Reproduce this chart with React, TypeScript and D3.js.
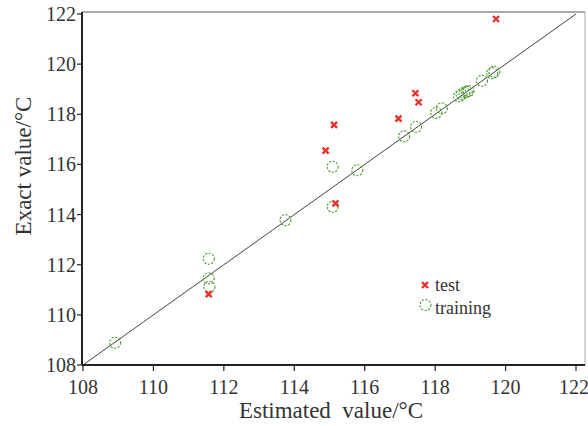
import { useEffect, useRef } from 'react'
import * as d3 from 'd3'

// training points [estimated, exact]
const trainEst = [108.91, 111.57, 111.57, 111.59, 113.75, 115.09, 115.09, 115.79, 117.12, 117.46, 118.03, 118.19, 118.68, 118.75, 118.83, 118.9, 118.95, 119.33, 119.62, 119.68]
const trainExact = [108.89, 112.24, 111.46, 111.12, 113.78, 115.91, 114.31, 115.77, 117.12, 117.5, 118.06, 118.24, 118.72, 118.8, 118.86, 118.9, 118.93, 119.34, 119.64, 119.7]

// test points
const testEst = [111.57, 115.17, 114.89, 115.13, 116.96, 117.44, 117.53, 119.73]
const testExact = [110.83, 114.45, 116.55, 117.58, 117.83, 118.84, 118.48, 121.8]

const ticks = [108, 110, 112, 114, 116, 118, 120, 122]

export default function App() {
  const svgRef = useRef<SVGSVGElement>(null)

  useEffect(() => {
    const W = 588
    const H = 426
    const svg = d3.select(svgRef.current).attr('width', W).attr('height', H)
    svg.selectAll('*').remove()

    const left = 82, right = 585, top = 12, bottom = 365
    const x = d3.scaleLinear().domain([108, 122]).range([83, 576])
    const y = d3.scaleLinear().domain([108, 122]).range([365, 14])
    const font = 'Liberation Serif, Times New Roman, serif'

    // frame: top/right light
    svg.append('line').attr('x1', left).attr('x2', right).attr('y1', top).attr('y2', top).attr('stroke', '#555').attr('stroke-width', 1.2)
    svg.append('line').attr('x1', right).attr('x2', right).attr('y1', top).attr('y2', bottom).attr('stroke', '#aaa').attr('stroke-width', 1)

    // diagonal y = x
    svg.append('line')
      .attr('x1', x(108)).attr('y1', y(108)).attr('x2', x(122)).attr('y2', y(122))
      .attr('stroke', '#444').attr('stroke-width', 1)

    // axes
    svg.append('line').attr('x1', left).attr('x2', right).attr('y1', bottom).attr('y2', bottom).attr('stroke', '#222').attr('stroke-width', 2)
    svg.append('line').attr('x1', left).attr('x2', left).attr('y1', top).attr('y2', bottom).attr('stroke', '#222').attr('stroke-width', 2)

    ticks.forEach(t => {
      svg.append('line').attr('x1', x(t)).attr('x2', x(t)).attr('y1', bottom).attr('y2', bottom + 6).attr('stroke', '#222').attr('stroke-width', 1.2)
      svg.append('text').attr('x', t === 122 ? x(t) - 2 : x(t)).attr('y', bottom + 29).attr('text-anchor', 'middle')
        .attr('font-family', font).attr('font-size', 20).attr('fill', '#333').text(t)
      svg.append('line').attr('x1', left - 5).attr('x2', left).attr('y1', y(t)).attr('y2', y(t)).attr('stroke', '#222').attr('stroke-width', 1.2)
      svg.append('text').attr('x', left - 6).attr('y', y(t) + 7).attr('text-anchor', 'end')
        .attr('font-family', font).attr('font-size', 20).attr('fill', '#333').text(t)
    })

    svg.append('text').attr('x', 331).attr('y', 418).attr('text-anchor', 'middle').attr('xml:space', 'preserve')
      .attr('font-family', font).attr('font-size', 23).attr('fill', '#333').text('Estimated  value/°C')
    svg.append('text').attr('transform', 'translate(31,166) rotate(-90)').attr('text-anchor', 'middle')
      .attr('font-family', font).attr('font-size', 23).attr('fill', '#333').text('Exact value/°C')

    const circle = (cx: number, cy: number) => {
      svg.append('circle').attr('cx', cx).attr('cy', cy).attr('r', 5.5)
        .attr('fill', 'none').attr('stroke', '#4d9a2e').attr('stroke-width', 1.1).attr('stroke-dasharray', '2.2,1.4')
    }
    const cross = (cx: number, cy: number) => {
      const s = 3
      svg.append('path')
        .attr('d', `M${cx - s},${cy - s}L${cx + s},${cy + s}M${cx - s},${cy + s}L${cx + s},${cy - s}`)
        .attr('stroke', '#e8322c').attr('stroke-width', 2.4).attr('fill', 'none')
    }

    trainEst.forEach((e, i) => circle(x(e), y(trainExact[i])))
    testEst.forEach((e, i) => cross(x(e), y(testExact[i])))

    // legend
    cross(425, 285)
    svg.append('text').attr('x', 435).attr('y', 291).attr('font-family', font).attr('font-size', 18).attr('fill', '#333').text('test')
    circle(425.5, 305)
    svg.append('text').attr('x', 435).attr('y', 314).attr('font-family', font).attr('font-size', 18).attr('fill', '#333').text('training')
  }, [])

  return (
    <div style={{ position: 'absolute', left: 0, top: 0, width: 588, height: 426, background: '#fff' }}>
      <svg ref={svgRef} />
    </div>
  )
}
